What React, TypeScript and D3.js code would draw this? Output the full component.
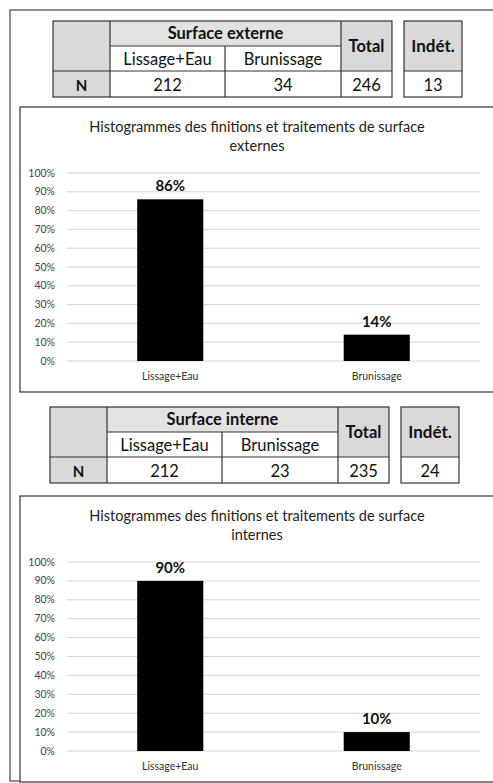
import * as d3 from "d3";

const categories = ["Lissage+Eau", "Brunissage"];
const yTicks = [0, 10, 20, 30, 40, 50, 60, 70, 80, 90, 100];

const externeCounts = [212, 34];
const externeTotal = 246;
const externeIndet = 13;
const externePct = [86, 14];

const interneCounts = [212, 23];
const interneTotal = 235;
const interneIndet = 24;
const internePct = [90, 10];

const FONT = "Lato, 'Open Sans', sans-serif";
const GRAY = "#d9d9d9";
const LINE = "#333";

const colWidths = [57, 115, 116, 51];

function CountTable({ x, y, label, counts, total, indet }: {
  x: number; y: number; label: string; counts: number[]; total: number; indet: number;
}) {
  const edges = d3.cumsum([x, ...colWidths]);
  const rows = [y, y + 25, y + 50, y + 76];
  const ix0 = edges[4] + 12;
  const ix1 = ix0 + 58;
  const cx = (a: number, b: number) => (a + b) / 2;
  return (
    <g fontFamily={FONT} fill="#111">
      {/* shaded cells */}
      <rect x={edges[0]} y={rows[0]} width={edges[1] - edges[0]} height={rows[3] - rows[0]} fill={GRAY} />
      <rect x={edges[1]} y={rows[0]} width={edges[3] - edges[1]} height={rows[1] - rows[0]} fill="#e2e2e2" />
      <rect x={edges[3]} y={rows[0]} width={edges[4] - edges[3]} height={rows[2] - rows[0]} fill={GRAY} />
      <rect x={ix0} y={rows[0]} width={ix1 - ix0} height={rows[2] - rows[0]} fill={GRAY} />
      <g fill="none" stroke={LINE} strokeWidth={1.2}>
        <rect x={edges[0]} y={rows[0]} width={edges[4] - edges[0]} height={rows[3] - rows[0]} />
        <rect x={ix0} y={rows[0]} width={ix1 - ix0} height={rows[3] - rows[0]} />
        <line x1={ix0} x2={ix1} y1={rows[2]} y2={rows[2]} />
        <line x1={edges[0]} x2={edges[4]} y1={rows[2]} y2={rows[2]} />
        <line x1={edges[1]} x2={edges[3]} y1={rows[1]} y2={rows[1]} />
        {[1, 3].map(i => <line key={i} x1={edges[i]} x2={edges[i]} y1={rows[0]} y2={rows[3]} />)}
        <line x1={edges[2]} x2={edges[2]} y1={rows[1]} y2={rows[3]} />
      </g>
      <text x={cx(edges[1], edges[3])} y={rows[0] + 18} textAnchor="middle" fontSize={16.5} fontWeight="bold">{label}</text>
      {categories.map((c, i) => (
        <text key={c} x={cx(edges[i + 1], edges[i + 2])} y={rows[1] + 18.5} textAnchor="middle" fontSize={16.5}>{c}</text>
      ))}
      <text x={cx(edges[3], edges[4])} y={rows[0] + 31} textAnchor="middle" fontSize={16.5} fontWeight="bold">Total</text>
      <text x={cx(ix0, ix1)} y={rows[0] + 31} textAnchor="middle" fontSize={17} fontWeight="bold">Indét.</text>
      <text x={cx(edges[0], edges[1])} y={rows[2] + 19.5} textAnchor="middle" fontSize={15} fontWeight="bold">N</text>
      {counts.map((v, i) => (
        <text key={i} x={cx(edges[i + 1], edges[i + 2])} y={rows[2] + 19.5} textAnchor="middle" fontSize={16.5}>{v}</text>
      ))}
      <text x={cx(edges[3], edges[4])} y={rows[2] + 19.5} textAnchor="middle" fontSize={16.5}>{total}</text>
      <text x={cx(ix0, ix1)} y={rows[2] + 19.5} textAnchor="middle" fontSize={16.5}>{indet}</text>
    </g>
  );
}

function BarChart({ top, bottom, titleLines, values }: {
  top: number; bottom: number; titleLines: string[]; values: number[];
}) {
  const y0 = top + 66;
  const y1 = bottom - 31;
  const y = d3.scaleLinear().domain([0, 100]).range([y1, y0]);
  const x = d3.scaleBand().domain(categories).range([67, 480]);
  const barW = x.bandwidth() * 0.32;
  return (
    <g fontFamily={FONT}>
      <rect x={20} y={top} width={490} height={bottom - top} fill="white" stroke={LINE} strokeWidth={1.2} />
      {titleLines.map((t, i) => (
        <text key={i} x={257} y={top + 25 + i * 19} textAnchor="middle" fontSize={14.5} fill="#222">{t}</text>
      ))}
      {yTicks.map(t => (
        <g key={t}>
          <line x1={67} x2={480} y1={y(t)} y2={y(t)} stroke="#d4d4d4" strokeWidth={1} />
          <text x={55} y={y(t) + 3.5} textAnchor="end" fontSize={10.5} fill="#444">{t}%</text>
        </g>
      ))}
      {categories.map((c, i) => {
        const cx = (x(c) ?? 0) + x.bandwidth() / 2;
        return (
          <g key={c}>
            <rect x={cx - barW / 2} y={y(values[i])} width={barW} height={y(0) - y(values[i])} fill="#000" />
            <text x={cx} y={y(values[i]) - 8} textAnchor="middle" fontSize={15} fontWeight="bold" fill="#111">{values[i]}%</text>
            <text x={cx} y={y1 + 19} textAnchor="middle" fontSize={10.5} fill="#333">{c}</text>
          </g>
        );
      })}
    </g>
  );
}

export default function App() {
  return (
    <svg width={493} height={783} style={{ position: "absolute", left: 0, top: 0, background: "white" }}>
      <rect x={10} y={10} width={500} height={771} fill="white" stroke="#444" strokeWidth={1.2} />
      <CountTable x={53} y={21} label="Surface externe" counts={externeCounts} total={externeTotal} indet={externeIndet} />
      <BarChart top={107} bottom={392} titleLines={["Histogrammes des finitions et traitements de surface", "externes"]} values={externePct} />
      <CountTable x={50} y={407} label="Surface interne" counts={interneCounts} total={interneTotal} indet={interneIndet} />
      <BarChart top={496} bottom={782} titleLines={["Histogrammes des finitions et traitements de surface", "internes"]} values={internePct} />
    </svg>
  );
}
